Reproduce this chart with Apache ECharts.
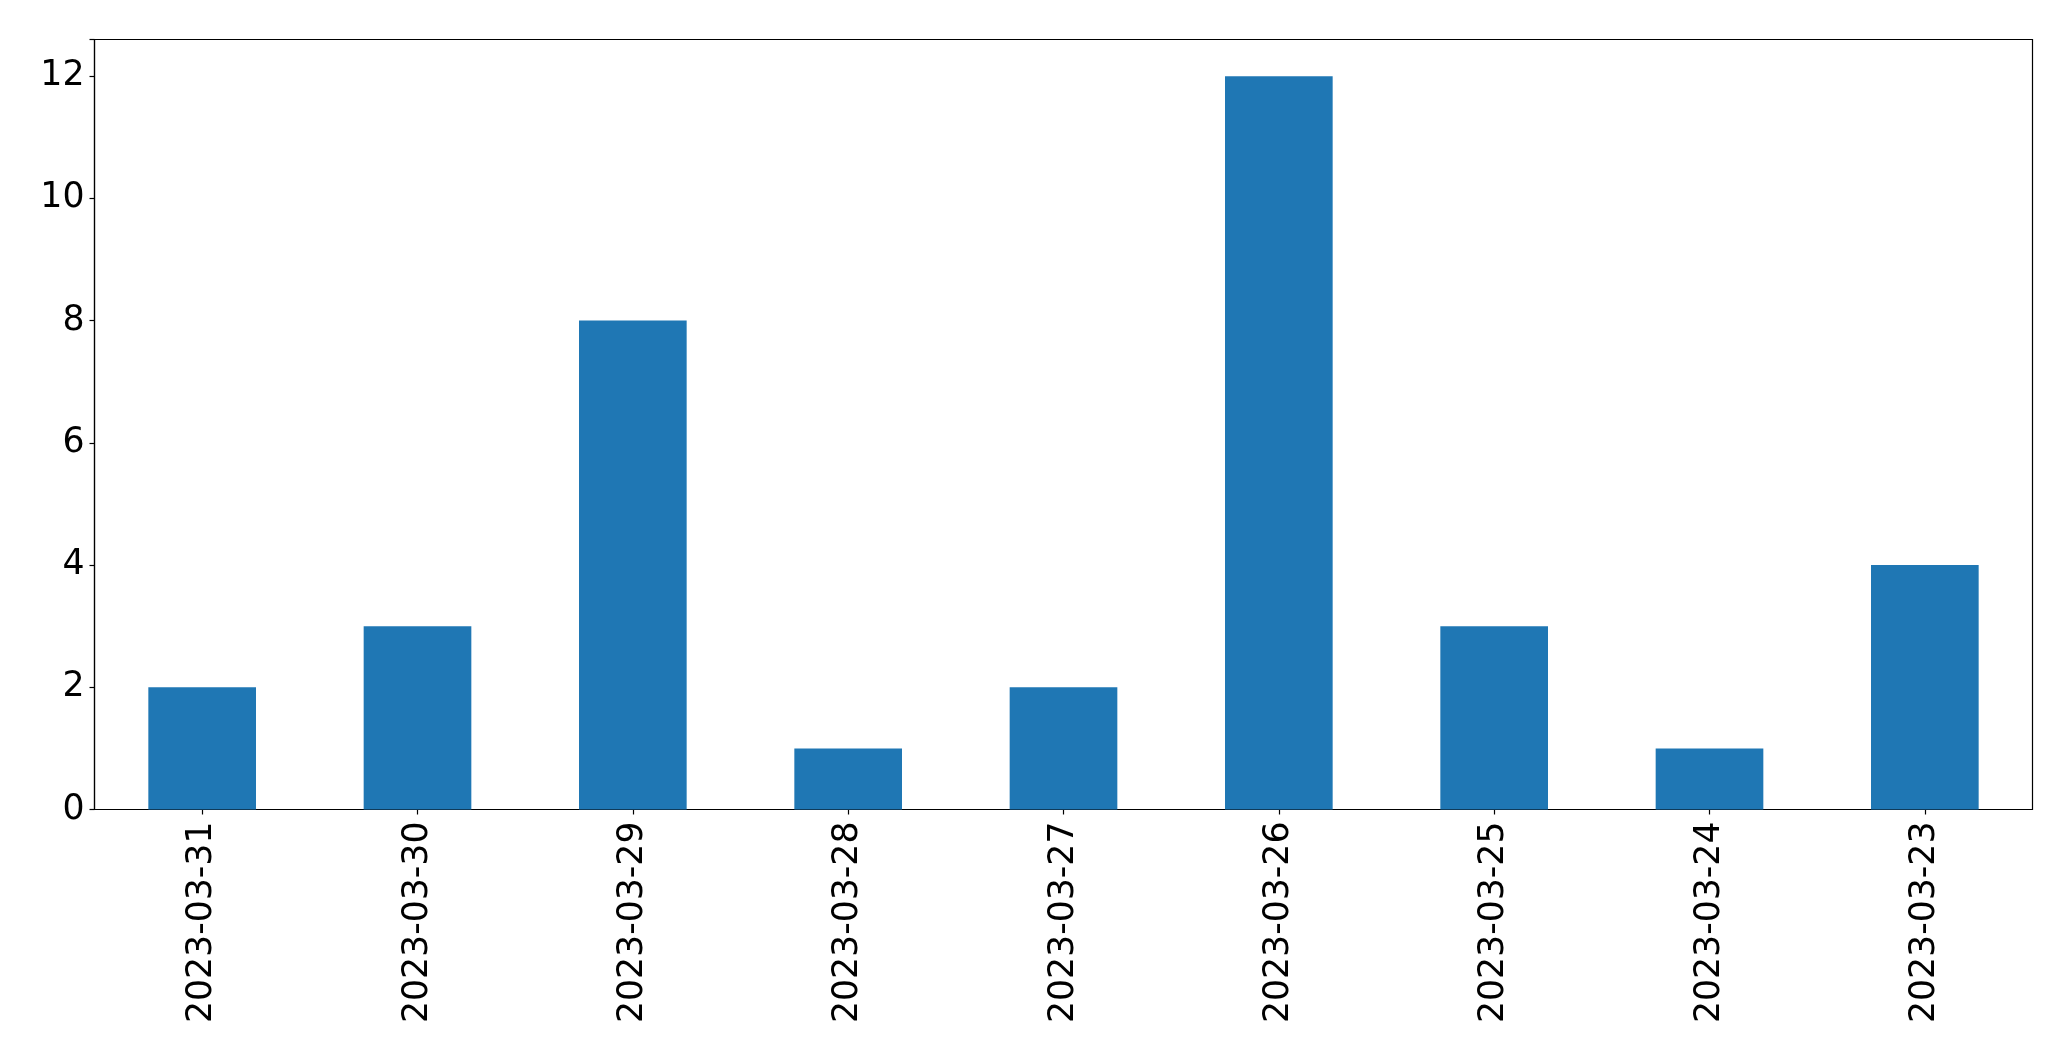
<!DOCTYPE html>
<html>
<head>
<meta charset="utf-8">
<script src="https://cdn.jsdelivr.net/npm/echarts@6/dist/echarts.min.js"></script>
<style>
html,body{margin:0;padding:0;background:#fff;}
#chart{width:2071px;height:1061px;}
</style>
</head>
<body>
<div id="chart"></div>
<script>
const categories = ["2023-03-31","2023-03-30","2023-03-29","2023-03-28","2023-03-27","2023-03-26","2023-03-25","2023-03-24","2023-03-23"];
const values = [2,3,8,1,2,12,3,1,4];
const yTicks = [0,2,4,6,8,10,12];

const chart = echarts.init(document.getElementById('chart'), null, {renderer:'canvas'});
const font = 'DejaVu Sans';
chart.setOption({
  animation:false,
  backgroundColor:'#ffffff',
  grid:{left:94.5,right:38.5,top:39.5,bottom:251.5,show:true,borderColor:'#000',borderWidth:1.2,backgroundColor:'transparent',containLabel:false},
  xAxis:{
    type:'category',
    data:categories,
    boundaryGap:true,
    axisLine:{show:true,lineStyle:{color:'#000',width:1.2}},
    axisTick:{show:true,alignWithLabel:true,length:5,lineStyle:{color:'#000',width:1.2}},
    axisLabel:{rotate:90,margin:12,fontFamily:font,fontSize:34.7,color:'#000',interval:0},
    splitLine:{show:false}
  },
  yAxis:{
    type:'value',
    min:0,max:12.6,interval:2,
    axisLine:{show:true,lineStyle:{color:'#000',width:1.2}},
    axisTick:{show:true,length:5,lineStyle:{color:'#000',width:1.2}},
    axisLabel:{margin:10,fontFamily:font,fontSize:34.7,color:'#000',
      formatter:function(v){return yTicks.indexOf(v)>=0?String(v):'';}},
    splitLine:{show:false}
  },
  series:[{
    type:'bar',
    data:values,
    barWidth:'50%',
    itemStyle:{color:'#1f77b4'}
  }]
});
</script>
</body>
</html>
